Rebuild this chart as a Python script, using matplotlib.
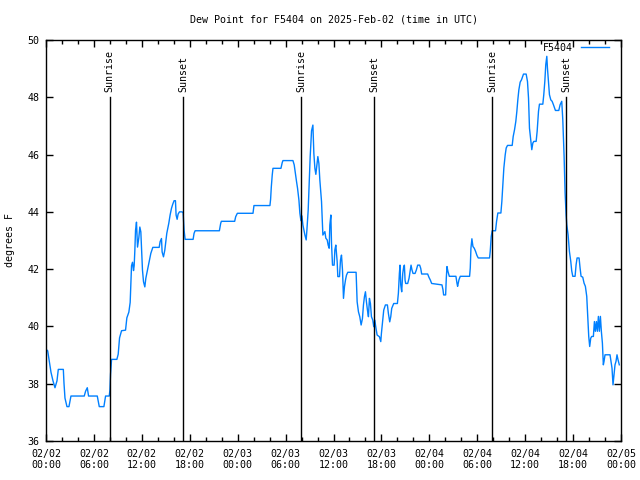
import numpy as np
import matplotlib
matplotlib.use("Agg")
import matplotlib.pyplot as plt
from matplotlib.ticker import MultipleLocator

plt.rcParams['font.family'] = ['DejaVu Sans Mono']
plt.rcParams['font.size'] = 7.2

title = "Dew Point for F5404 on 2025-Feb-02 (time in UTC)"
series_name = "F5404"

# hours since 2025-02-02 00:00 UTC, dew point in F
hours = [0.0, 0.21, 0.375, 0.625, 0.875, 1.125, 1.375, 1.54, 2.17, 2.25, 2.375, 2.625, 2.875, 3.125,
         4.79, 4.96, 5.17, 5.33, 6.42, 6.67, 7.25, 7.46, 7.92, 8.0, 8.08, 8.21, 8.875, 9.04, 9.21,
         9.46, 9.96, 10.125, 10.375, 10.54, 10.625, 10.71, 10.83, 10.96, 11.04, 11.125, 11.21, 11.33,
         11.46, 11.625, 11.75, 11.875, 12.08, 12.21, 12.375, 12.5, 12.71, 12.92, 13.125, 13.375,
         14.17, 14.29, 14.46, 14.54, 14.71, 14.875, 15.125, 15.375, 15.54, 15.71, 15.875, 16.04,
         16.21, 16.29, 16.42, 16.54, 16.71, 17.04, 17.17, 17.29, 17.42, 18.42, 18.54, 18.67, 21.71,
         21.875, 21.96, 23.625, 23.75, 23.96, 25.92, 26.04, 28.04, 28.125, 28.21, 28.33, 28.42,
         29.42, 29.58, 29.67, 30.92, 31.08, 31.25, 31.375, 31.5, 31.67, 31.79, 31.92, 32.04, 32.17,
         32.29, 32.42, 32.58, 32.67, 32.83, 32.96, 33.08, 33.25, 33.42, 33.54, 33.67, 33.79, 33.92,
         34.04, 34.17, 34.29, 34.5, 34.67, 34.79, 34.92, 35.04, 35.21, 35.33, 35.46, 35.54, 35.67,
         35.75, 35.875, 36.08, 36.17, 36.29, 36.46, 36.54, 36.75, 36.875, 37.0, 37.125, 37.25,
         37.375, 37.5, 37.625, 37.79, 38.83, 38.96, 39.125, 39.29, 39.46, 39.625, 39.75, 39.875,
         40.0, 40.125, 40.25, 40.375, 40.5, 40.625, 40.75, 40.92, 41.04, 41.17, 41.29, 41.46, 41.75,
         41.92, 42.0, 42.125, 42.29, 42.5, 42.75, 42.875, 43.04, 43.17, 43.29, 43.54, 44.0, 44.125,
         44.25, 44.33, 44.42, 44.54, 44.67, 44.79, 44.875, 44.96, 45.04, 45.29, 45.46, 45.58, 45.71,
         45.83, 45.96, 46.21, 46.375, 46.54, 46.79, 46.92, 47.04, 47.79, 47.96, 48.125, 48.29,
         49.58, 49.71, 49.79, 50.04, 50.125, 50.21, 50.33, 50.5, 51.33, 51.46, 51.54, 51.71, 51.875,
         53.04, 53.125, 53.21, 53.33, 53.46, 53.625, 53.79, 53.96, 54.125, 55.54, 55.625, 55.75,
         55.875, 56.29, 56.42, 56.58, 56.96, 57.08, 57.21, 57.33, 57.5, 57.625, 57.79, 58.375, 58.5,
         58.67, 58.83, 58.96, 59.08, 59.21, 59.375, 59.54, 59.79, 60.125, 60.29, 60.42, 60.54,
         60.71, 60.83, 60.96, 61.08, 61.375, 61.5, 61.67, 61.79, 62.21, 62.33, 62.46, 62.58, 62.71,
         62.79, 62.92, 63.04, 63.21, 63.375, 63.54, 63.79, 64.21, 64.375, 64.58, 64.71, 64.875,
         65.0, 65.125, 65.21, 65.375, 65.54, 65.71, 65.83, 65.96, 66.25, 66.375, 66.5, 66.75,
         66.875, 67.0, 67.21, 67.375, 67.54, 67.71, 67.83, 67.96, 68.08, 68.21, 68.33, 68.54,
         68.67, 68.79, 68.92, 69.04, 69.17, 69.29, 69.42, 69.54, 69.67, 69.79, 69.875, 70.0,
         70.625, 70.75, 70.875, 71.0, 71.125, 71.25, 71.375, 71.5, 71.625, 71.79]
dewpoint = [39.2, 39.15, 38.85, 38.4, 38.1, 37.86, 38.1, 38.5, 38.5, 38.03, 37.5, 37.2, 37.2, 37.57,
            37.57, 37.74, 37.86, 37.57, 37.57, 37.2, 37.2, 37.57, 37.57, 37.77, 38.33, 38.85, 38.85,
            39.03, 39.6, 39.85, 39.87, 40.3, 40.5, 40.84, 41.48, 42.12, 42.24, 41.95, 42.12, 42.65,
            43.35, 43.64, 42.77, 43.1, 43.47, 43.3, 41.97, 41.56, 41.38, 41.68, 41.97, 42.26, 42.55,
            42.76, 42.76, 42.96, 43.07, 42.6, 42.43, 42.66, 43.25, 43.6, 43.89, 44.12, 44.27, 44.39,
            44.39, 43.89, 43.74, 43.92, 44.0, 44.0, 43.97, 43.36, 43.04, 43.04, 43.25, 43.34, 43.34,
            43.6, 43.67, 43.67, 43.83, 43.95, 43.95, 44.22, 44.22, 44.44, 44.86, 45.29, 45.52, 45.52,
            45.72, 45.79, 45.79, 45.64, 45.29, 45.05, 44.82, 44.41, 43.95, 43.69, 43.86, 43.54, 43.37,
            43.19, 43.02, 43.37, 44.06, 45.05, 45.93, 46.83, 47.03, 46.04, 45.52, 45.31, 45.64, 45.93,
            45.69, 45.11, 44.36, 43.19, 43.25, 43.31, 43.08, 43.02, 42.84, 42.73, 43.54, 43.89, 42.9,
            42.14, 42.14, 42.67, 42.84, 42.26, 41.74, 41.74, 42.32, 42.49, 41.97, 40.98, 41.39, 41.62,
            41.79, 41.89, 41.89, 40.86, 40.51, 40.34, 40.05, 40.28, 40.75, 41.04, 41.21, 40.86, 40.57,
            40.34, 40.98, 40.8, 40.34, 40.22, 39.99, 40.22, 39.99, 39.7, 39.64, 39.47, 39.76, 40.11,
            40.57, 40.75, 40.75, 40.45, 40.16, 40.34, 40.63, 40.8, 40.8, 41.16, 41.85, 42.14, 41.45,
            41.21, 41.85, 42.08, 42.14, 41.62, 41.5, 41.5, 41.68, 41.91, 42.14, 41.97, 41.85, 41.85,
            41.97, 42.14, 42.14, 42.03, 41.83, 41.83, 41.71, 41.62, 41.5, 41.45, 41.28, 41.1, 41.1,
            41.69, 42.09, 41.92, 41.75, 41.75, 41.51, 41.4, 41.63, 41.75, 41.75, 42.04, 42.73, 43.06,
            42.79, 42.73, 42.62, 42.48, 42.39, 42.39, 42.62, 43.14, 43.34, 43.34, 43.67, 43.96, 43.96,
            44.36, 45.0, 45.53, 45.99, 46.23, 46.32, 46.32, 46.63, 46.87, 47.16, 47.51, 47.91, 48.26,
            48.53, 48.61, 48.81, 48.81, 48.55, 47.97, 46.92, 46.46, 46.17, 46.4, 46.46, 46.46, 46.81,
            47.51, 47.76, 47.76, 48.09, 48.55, 49.14, 49.43, 49.02, 48.55, 48.09, 47.91, 47.86, 47.74,
            47.54, 47.54, 47.74, 47.86, 47.22, 45.94, 44.66, 43.9, 43.55, 43.2, 42.62, 42.27, 41.94,
            41.75, 41.75, 42.15, 42.39, 42.39, 42.04, 41.75, 41.72, 41.51, 41.4, 41.05, 40.35, 39.65,
            39.3, 39.59, 39.65, 39.65, 40.17, 39.83, 40.17, 39.83, 40.35, 39.83, 40.35, 39.83, 39.42,
            38.66, 38.78, 39.01, 39.01, 38.78, 38.54, 37.96, 38.31, 38.66, 38.78, 39.01, 38.84, 38.66]

event_hours = [7.97, 17.15, 31.98, 41.12, 55.88, 65.14]
event_names = ["Sunrise", "Sunset", "Sunrise", "Sunset", "Sunrise", "Sunset"]

xtick_hours = list(range(0, 73, 6))
xtick_labels = ["02/02\n00:00", "02/02\n06:00", "02/02\n12:00", "02/02\n18:00",
                "02/03\n00:00", "02/03\n06:00", "02/03\n12:00", "02/03\n18:00",
                "02/04\n00:00", "02/04\n06:00", "02/04\n12:00", "02/04\n18:00", "02/05\n00:00"]
yticks = [36, 38, 40, 42, 44, 46, 48, 50]

fig = plt.figure(figsize=(6.4, 4.8), dpi=100)
ax = fig.add_axes([46/640, 1 - 441/480, 575/640, 401/480])

ax.plot(hours, dewpoint, color='#0080ff', lw=1.0, label=series_name)

for h, name in zip(event_hours, event_names):
    ax.plot([h, h], [36, 48], color='black', lw=1.0)
    ax.annotate(name, (h, 48), xytext=(0, 3.5), textcoords='offset points',
                rotation=90, ha='center', va='bottom')

ax.set_xlim(0, 72)
ax.set_ylim(36, 50)
ax.set_xticks(xtick_hours)
ax.set_xticklabels(xtick_labels, linespacing=1.05)
ax.xaxis.set_minor_locator(MultipleLocator(2))
ax.set_yticks(yticks)
ax.tick_params(which='both', direction='in', top=True, right=True, width=1, color='black')
ax.tick_params(which='major', length=5)
ax.tick_params(which='minor', length=3)
ax.tick_params(axis='x', which='major', pad=6)
ax.tick_params(axis='y', which='major', pad=4.5)
for s in ax.spines.values():
    s.set_linewidth(1)
    s.set_color('black')

fig.text(333.5/640, 1 - 20/480, title, ha='center', va='center')
fig.text(10/640, 0.5, "degrees F", rotation=90, ha='center', va='center')

ax.legend(loc='upper right', bbox_to_anchor=(1 - 12/575, 1 - 3/401), frameon=False,
          markerfirst=False, handlelength=2.8, handletextpad=0.8, borderaxespad=0, borderpad=0)

fig.savefig("out.png", dpi=100)
